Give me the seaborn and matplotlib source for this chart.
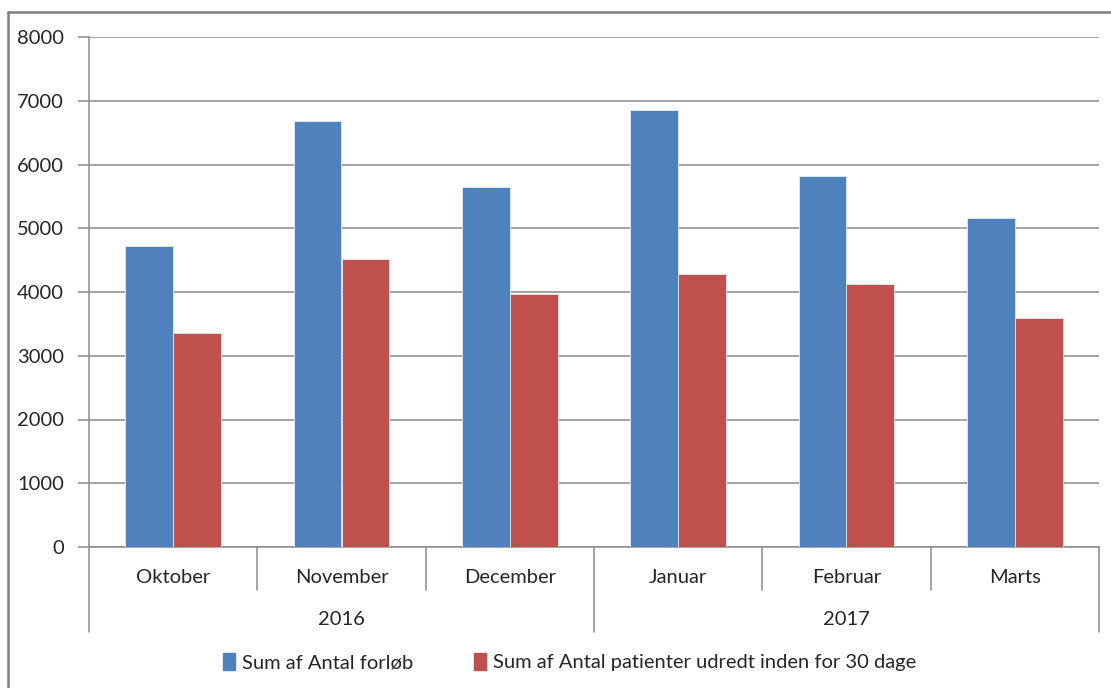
import pandas as pd
import matplotlib.pyplot as plt
import seaborn as sns
from matplotlib.lines import Line2D

# ==================== data ====================
months = ['Oktober', 'November', 'December', 'Januar', 'Februar', 'Marts']
years = ['2016', '2016', '2016', '2017', '2017', '2017']
forloeb = [4722, 6686, 5644, 6859, 5827, 5168]
udredt = [3352, 4513, 3975, 4287, 4126, 3592]
series_names = ['Sum af Antal forløb', 'Sum af Antal patienter udredt inden for 30 dage']
colors = ['#4F81BD', '#C0504D']

df = pd.DataFrame({
    'Måned': months * 2,
    'År': years * 2,
    'Værdi': forloeb + udredt,
    'Serie': [series_names[0]] * len(months) + [series_names[1]] * len(months),
})

# ==================== style ====================
sns.set_style('white')
plt.rcParams['font.family'] = ['Lato', 'DejaVu Sans']
fs = 14.5
plt.rcParams['font.size'] = fs
txt = '#262626'
line_c = '#8c8c8c'

fig = plt.figure(figsize=(11.11, 6.88), dpi=100)
ax = fig.add_axes([89 / 1111, 1 - 547 / 688, 1010 / 1111, 510 / 688])

sns.barplot(data=df, x='Måned', y='Værdi', hue='Serie', palette=colors,
            saturation=1, width=0.57, gap=0, ax=ax, legend=False, errorbar=None,
            edgecolor='#e6ecf5', linewidth=0.6, zorder=3)

ax.set_ylim(0, 8000)
ax.set_yticks(range(0, 8001, 1000))
ax.set_xlim(-0.5, len(months) - 0.5)
ax.set_xlabel('')
ax.set_ylabel('')

ax.yaxis.grid(True, color=line_c, linewidth=1.1, zorder=0)
for s in ['top', 'right']:
    ax.spines[s].set_visible(False)
for s in ['left', 'bottom']:
    ax.spines[s].set_color(line_c)
    ax.spines[s].set_linewidth(1.1)

ax.tick_params(axis='y', length=8, width=1.1, color=line_c, pad=10,
               labelsize=fs, labelcolor=txt, left=True)
ax.tick_params(axis='x', length=0, pad=16, labelsize=fs, labelcolor=txt)

# kategori-skillelinjer under aksen
for i in range(len(months) + 1):
    x = i - 0.5
    if i % 3 == 0:
        y_end = -0.167
    else:
        y_end = -0.084
    ax.plot([x, x], [0, y_end], color=line_c, lw=1.1,
            transform=ax.get_xaxis_transform(), clip_on=False)

# år-etiketter
for k, yr in enumerate(['2016', '2017']):
    ax.text(1 + 3 * k, -0.143, yr, ha='center', va='center', fontsize=fs,
            color=txt, transform=ax.get_xaxis_transform())

# legend
handles = [plt.Rectangle((0, 0), 1, 1, color=c) for c in colors]
fig.legend(handles, series_names, loc='center', bbox_to_anchor=(0.513, 1 - 662 / 688),
           ncol=2, frameon=False, fontsize=fs, handlelength=0.6, handleheight=0.9,
           handletextpad=0.35, columnspacing=3.0, labelcolor=txt)

# ydre ramme
fig.add_artist(Line2D([8 / 1111, 1.0], [1 - 12 / 688, 1 - 12 / 688],
                      color='#7f7f7f', lw=1.8, transform=fig.transFigure))
fig.add_artist(Line2D([8 / 1111, 8 / 1111], [1 - 12 / 688, 0.0],
                      color='#7f7f7f', lw=1.8, transform=fig.transFigure))

fig.savefig('out.png', dpi=100)
